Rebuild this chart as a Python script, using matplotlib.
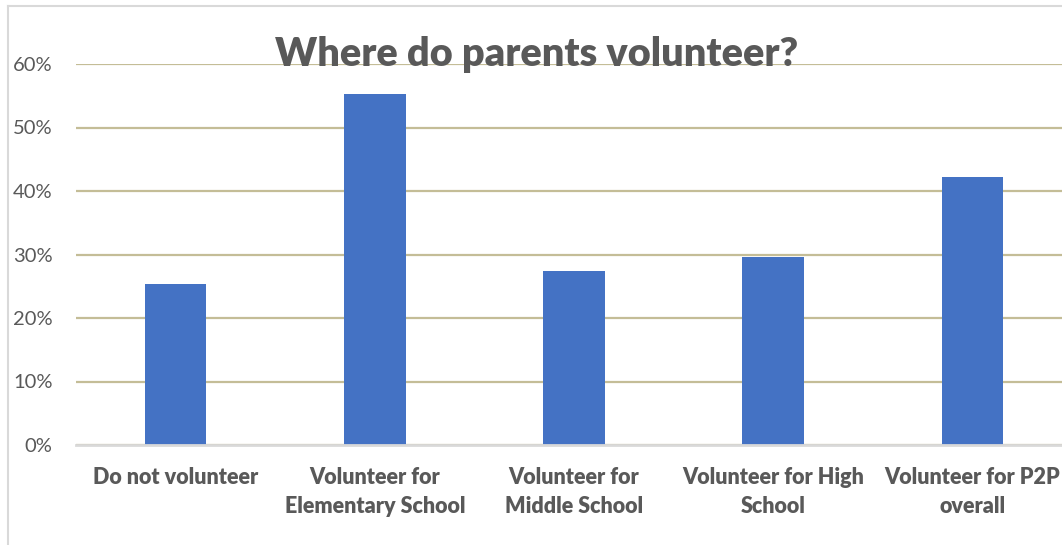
import matplotlib
matplotlib.use("Agg")
from matplotlib import pyplot as plt
from matplotlib.lines import Line2D
from matplotlib.ticker import PercentFormatter

categories = ["Do not volunteer", "Volunteer for\nElementary School",
              "Volunteer for\nMiddle School", "Volunteer for High\nSchool",
              "Volunteer for P2P\noverall"]
values = [0.253, 0.552, 0.274, 0.296, 0.422]
y_ticks = [0.0, 0.1, 0.2, 0.3, 0.4, 0.5, 0.6]

text_color = "#595959"
plt.rcParams["font.family"] = ["Lato", "DejaVu Sans"]

W, H = 1062, 545
fig = plt.figure(figsize=(W / 100, H / 100), dpi=100)
ax = fig.add_axes([76 / W, 1 - 445 / H, (1072 - 76) / W, (445 - 64) / H])

x = range(len(categories))
ax.bar(x, values, width=0.31, color="#4472C4", zorder=3)
ax.set_xlim(-0.5, len(categories) - 0.5)
ax.set_ylim(0, 0.6)
ax.set_yticks(y_ticks)
ax.yaxis.set_major_formatter(PercentFormatter(1.0, decimals=0))
ax.grid(axis="y", color="#c4bd97", linewidth=1.6, zorder=0)
ax.set_xticks(list(x))
ax.set_xticklabels(categories, fontsize=15.5, fontweight="heavy",
                   color=text_color, linespacing=1.45)
ax.tick_params(axis="x", length=0, pad=16)
ax.tick_params(axis="y", length=0, pad=17, labelsize=14.5, labelcolor=text_color)
for side in ["top", "right", "left"]:
    ax.spines[side].set_visible(False)
ax.spines["bottom"].set_color("#d9d9d9")
ax.spines["bottom"].set_linewidth(2)
ax.spines["bottom"].set_zorder(4)

# chart border (left and top visible in the crop)
fig.add_artist(Line2D([8 / W, 8 / W], [0, 1 - 6 / H], color="#d9d9d9", linewidth=1.5))
fig.add_artist(Line2D([8 / W, 1], [1 - 6 / H, 1 - 6 / H], color="#d9d9d9", linewidth=1.5))

fig.text(537 / W, 1 - 66 / H, "Where do parents volunteer?", ha="center",
         va="baseline", fontsize=28.5, fontweight="heavy", color=text_color)

fig.savefig("out.png", dpi=100)
